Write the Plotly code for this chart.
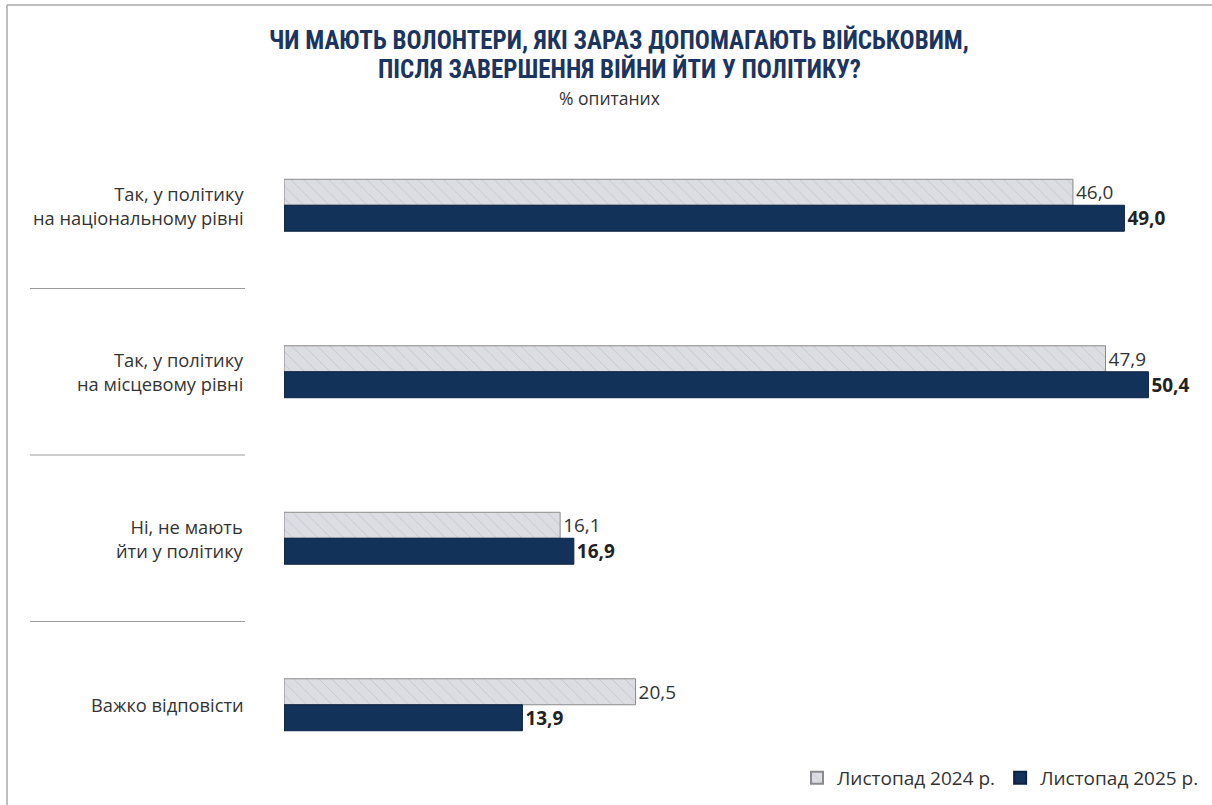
import plotly.graph_objects as go

categories = ["Так, у політику<br>на національному рівні",
              "Так, у політику<br>на місцевому рівні",
              "Ні, не мають<br>йти у політику",
              "Важко відповісти"]
series_names = ["Листопад 2024 р.", "Листопад 2025 р."]
values_2024 = [46.0, 47.9, 16.1, 20.5]
values_2025 = [49.0, 50.4, 16.9, 13.9]
title_lines = ["ЧИ МАЮТЬ ВОЛОНТЕРИ, ЯКІ ЗАРАЗ ДОПОМАГАЮТЬ ВІЙСЬКОВИМ,",
               "ПІСЛЯ ЗАВЕРШЕННЯ ВІЙНИ ЙТИ У ПОЛІТИКУ?"]
subtitle = "% опитаних"

W, H = 1212, 805
L, R, T, B = 284, 19, 122, 17
pw = W - L - R
ph = H - T - B

def fmt(v):
    return f"{v:.1f}".replace(".", ",")

def px_x(x):
    return (x - L) / pw

def px_y(y):
    return (H - B - y) / ph

ypos = list(range(len(categories)))
font_main = "'Open Sans', Roboto, sans-serif"
font_title = "'Liberation Sans Narrow', 'Roboto Condensed', Roboto, sans-serif"
navy = "#13325a"

fig = go.Figure()
fig.add_trace(go.Bar(
    y=ypos, x=values_2024, orientation="h", name=series_names[0],
    marker=dict(color="#dcdde3", line=dict(color="#8a8a8a", width=1),
                pattern=dict(shape="\\", fgcolor="#8a8a8a", size=9, solidity=0.06,
                             bgcolor="#dcdde3")),
    text=[fmt(v) for v in values_2024], textposition="outside",
    textfont=dict(family=font_main, size=19, color="#333333"),
    cliponaxis=False, hoverinfo="x",
))
fig.add_trace(go.Bar(
    y=ypos, x=values_2025, orientation="h", name=series_names[1],
    marker=dict(color=navy, line=dict(color="#0d2240", width=1)),
    text=[f"<b>{fmt(v)}</b>" for v in values_2025], textposition="outside",
    textfont=dict(family=font_main, size=19, color="#222222"),
    cliponaxis=False, hoverinfo="x",
))

# category labels
for i, c in enumerate(categories):
    fig.add_annotation(xref="paper", yref="y", x=px_x(246), y=i,
                       text=c, showarrow=False, xanchor="right", yanchor="middle",
                       align="right",
                       font=dict(family=font_main, size=18.3, color="#333333"))

# separators
for i in range(len(categories) - 1):
    fig.add_shape(type="line", xref="paper", yref="y",
                  x0=px_x(30), x1=px_x(245), y0=i + 0.5, y1=i + 0.5,
                  line=dict(color="#9a9a9a", width=1))

# frame
fig.add_shape(type="line", xref="paper", yref="paper",
              x0=px_x(7), x1=px_x(W + 5), y0=px_y(5), y1=px_y(5),
              line=dict(color="#a8a8a8", width=1.5))
fig.add_shape(type="line", xref="paper", yref="paper",
              x0=px_x(7), x1=px_x(7), y0=px_y(5), y1=px_y(H + 5),
              line=dict(color="#a8a8a8", width=1.5))

# title
for yy, line in zip([40, 69], title_lines):
    fig.add_annotation(xref="paper", yref="paper", x=px_x(619), y=px_y(yy),
                       text=f"<b>{line}</b>", showarrow=False,
                       xanchor="center", yanchor="middle", borderpad=0,
                       font=dict(family=font_title, size=25, color="#1b3560"))
fig.add_annotation(xref="paper", yref="paper", x=px_x(609), y=px_y(98),
                   text=subtitle, showarrow=False, xanchor="center", yanchor="middle",
                   font=dict(family=font_main, size=17.5, color="#333333"))

fig.update_layout(
    width=W, height=H,
    margin=dict(l=L, r=R, t=T, b=B, autoexpand=False),
    paper_bgcolor="white", plot_bgcolor="white",
    barmode="group", bargap=0.688, bargroupgap=0,
    separators=", ",
    showlegend=True,
    legend=dict(orientation="h", x=px_x(1204), xanchor="right", y=px_y(778),
                yanchor="middle", traceorder="normal",
                font=dict(family=font_main, size=19, color="#333333"),
                itemsizing="constant", itemwidth=30, bgcolor="rgba(0,0,0,0)"),
    xaxis=dict(range=[0, 53], visible=False, fixedrange=True),
    yaxis=dict(range=[3.5, -0.5], visible=False, fixedrange=True),
)

fig.write_html("out.html", config={"displayModeBar": False},
               post_script="document.body.style.margin='0px';")
